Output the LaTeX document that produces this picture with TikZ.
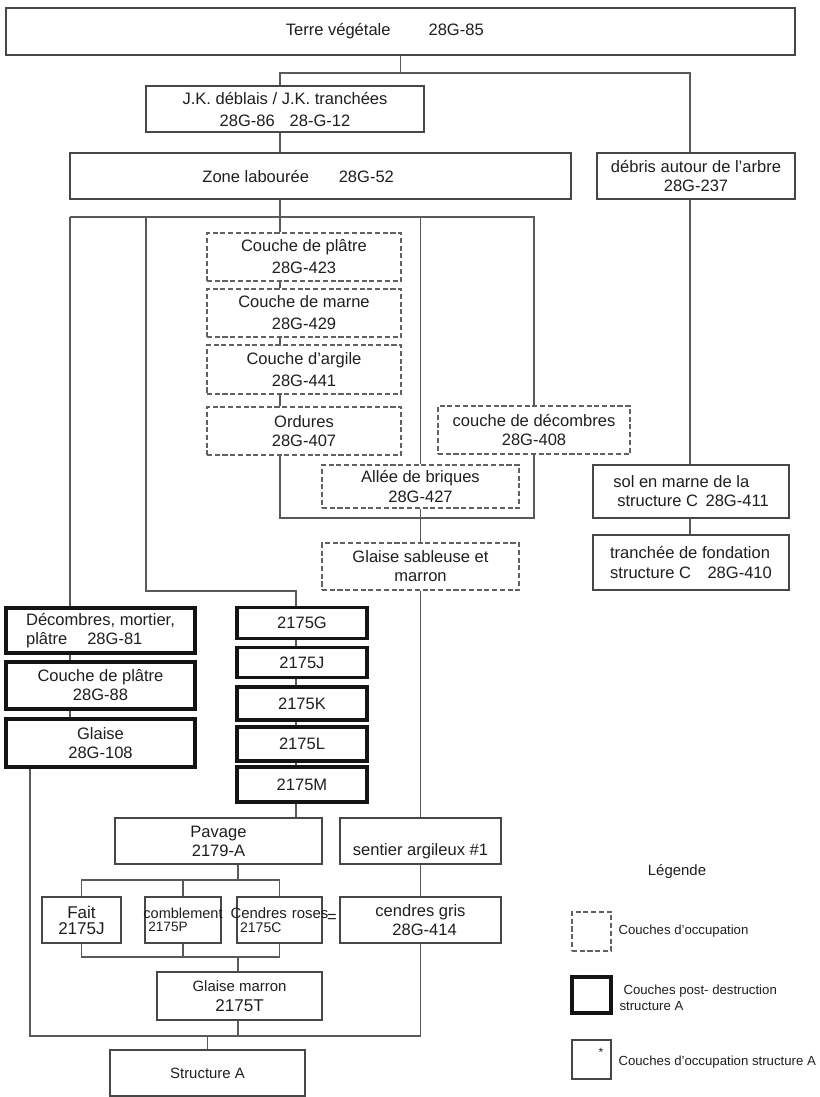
\documentclass[tikz,border=0pt]{standalone}
\usepackage{fontspec}
\setmainfont{Liberation Sans}
\usetikzlibrary{positioning}

\begin{document}
\begin{tikzpicture}[
    x=0.75pt, y=-0.75pt,
    every node/.style={font=\fontsize{12.4}{14.3}\selectfont, text=black!88},
    sz/.style 2 args={minimum width={#1*0.75pt}, minimum height={#2*0.75pt}},
    layer/.style={draw=black!72, line width=0.9pt, inner sep=1pt, align=center},
    occ/.style={layer, draw=black!62, dash pattern=on 3.8pt off 2pt},
    post/.style={layer, draw=black!92, line width=2.4pt},
    wide/.style={font=\fontsize{12.4}{16.5}\selectfont},
    small/.style={font=\fontsize{11.2}{13}\selectfont},
    link/.style={draw=black!65, line width=0.9pt},
    lgdtext/.style={font=\fontsize{9.9}{12}\selectfont, align=left, inner sep=1pt},
  ]
  \fill[white] (0,0) rectangle (819,1097);
  \useasboundingbox (0,0) rectangle (819,1097);

  \node[layer, sz={789}{47}] (terre) at (400.5,31.5) {Terre végétale\hspace*{2.3em}28G-85\hspace*{1.9em}};
  \node[layer, wide, sz={278}{46}] (jk) at (285,109) {J.K. déblais / J.K. tranchées\\28G-86\hspace{0.9em}28-G-12};
  \node[layer, sz={501}{46}] (zone) at (320.5,176) {Zone labourée\hspace*{1.8em}28G-52\hspace*{2.7em}};
  \node[layer, sz={198}{46}] (debris) at (696,176) {débris autour de l'arbre\\28G-237};

  \node[occ, wide, sz={194}{48}] (pl423) at (304,257) {Couche de plâtre\\28G-423};
  \node[occ, wide, sz={194}{48}] (ma429) at (304,313) {Couche de marne\\28G-429};
  \node[occ, wide, sz={194}{49}] (ar441) at (304,369.5) {Couche d'argile\\28G-441};
  \node[occ, sz={194}{48}] (ord407) at (304,431) {Ordures\\28G-407};
  \node[occ, sz={192}{48}] (dec408) at (534,430) {couche de décombres\\28G-408};
  \node[occ, sz={197}{43}] (al427) at (420.5,486.5) {Allée de briques\\28G-427};
  \node[occ, sz={197}{47}] (gsm) at (420.5,566.5) {Glaise sableuse et\\marron};

  \node[layer, align=left, sz={196}{53}] (sol411) at (691,491.5) {sol en marne de la\\\hspace*{3pt}structure C\hspace{0.45em}28G-411};
  \node[layer, align=left, sz={196}{55}] (tr410) at (691,562.5) {tranchée de fondation\\structure C\hspace{1em}28G-410};

  \node[post, align=left, sz={189}{45}] (dmp81) at (100.5,630.5) {Décombres, mortier,\\plâtre\hspace{1.2em}28G-81};
  \node[post, sz={189}{47}] (cp88) at (100.5,685.5) {Couche de plâtre\\28G-88};
  \node[post, sz={189}{48}] (gl108) at (100.5,743) {Glaise\\28G-108};

  \node[post, sz={130}{31}] (nG) at (302,623) {2175G};
  \node[post, sz={130}{30}] (nJ) at (302,662.5) {2175J};
  \node[post, sz={130}{33}] (nK) at (302,703.5) {2175K};
  \node[post, sz={130}{34}] (nL) at (302,744) {2175L};
  \node[post, sz={130}{35}] (nM) at (302,784.5) {2175M};

  \node[layer, sz={207}{46}] (pav) at (218.5,841) {Pavage\\2179-A};
  \node[layer, sz={161}{46}] (sent) at (420.5,841) {\strut\\sentier argileux \#1};

  \node[layer, sz={79}{46}, font=\fontsize{12.8}{12}\selectfont] (fait) at (81.5,920) {Fait\\2175J};
  \node[layer, sz={76}{46}, align=left, text width=52pt, inner xsep=2.25pt,
        font=\fontsize{10.9}{10}\selectfont] (comb) at (183,920)
        {\makebox[\hsize][c]{comblement}\\{\fontsize{10.2}{10}\selectfont 2175P}};
  \node[layer, sz={85}{46}, align=left, text width=59pt, inner xsep=2.25pt,
        font=\fontsize{11.2}{10.5}\selectfont] (cend) at (279.5,920)
        {\makebox[\hsize][c]{Cendres roses}\\{\fontsize{10.5}{10}\selectfont 2175C}};
  \node[inner sep=0pt] (eq) at (332,918) {=};
  \node[layer, sz={161}{46}] (cgris) at (420.5,920) {cendres gris\\\hspace*{0.5em}28G-414};

  \node[layer, sz={165}{48}, font=\fontsize{11.2}{15}\selectfont] (gmar) at (239.5,996) {Glaise marron\\{\fontsize{12.8}{14}\selectfont 2175T}};
  \node[layer, small, sz={195}{46}] (strA) at (207.5,1073) {Structure A};

  \coordinate (t1) at (400,73);
  \coordinate (rc) at (690,73);
  \coordinate (trunk) at (280,217);
  \coordinate (lft) at (70,217);
  \coordinate (c146) at (146,217);
  \coordinate (c296) at (296,591);
  \coordinate (hz) at (420.5,518);
  \coordinate (pm) at (238,880);
  \coordinate (pb) at (238,957);
  \coordinate (lb) at (30,1036);

  \draw[link] (terre.south) -- (terre.south |- t1);
  \draw[link] (jk.north -| trunk) |- (rc) -- (debris.north -| rc);
  \draw[link] (debris.south -| rc) -- (sol411.north -| rc);
  \draw[link] (sol411.south -| rc) -- (tr410.north -| rc);
  \draw[link] (jk.south -| trunk) -- (zone.north -| trunk);
  \draw[link] (zone.south -| trunk) -- (pl423.north -| trunk);
  \draw[link] (lft) -- (dec408.north |- trunk) -- (dec408.north);
  \draw[link] (al427.north |- trunk) -- (al427.north);
  \draw[link] (pl423.south -| trunk) -- (ma429.north -| trunk);
  \draw[link] (ma429.south -| trunk) -- (ar441.north -| trunk);
  \draw[link] (ar441.south -| trunk) -- (ord407.north -| trunk);
  \draw[link] (ord407.south -| trunk) |- (hz) -| (dec408.south);
  \draw[link] (al427.south) -- (gsm.north);
  \draw[link] (gsm.south) -- (sent.north);
  \draw[link] (sent.south) -- (cgris.north);

  \draw[link] (lft) -- (dmp81.north -| lft);
  \draw[link] (dmp81.south -| lft) -- (cp88.north -| lft);
  \draw[link] (cp88.south -| lft) -- (gl108.north -| lft);

  \draw[link] (c146) |- (c296) -- (nG.north -| c296);
  \foreach \a/\b in {G/J,J/K,K/L,L/M}
    \draw[link] (n\a.south -| c296) -- (n\b.north -| c296);
  \draw[link] (nM.south -| c296) -- (pav.north -| c296);

  \draw[link] (pav.south -| pm) -- (pm);
  \draw[link] (fait.north) |- (pm) -| (cend.north);
  \draw[link] (comb.north) -- (comb.north |- pm);
  \draw[link] (fait.south) |- (pb) -| (cend.south);
  \draw[link] (comb.south) -- (comb.south |- pb);
  \draw[link] (pb) -- (gmar.north -| pb);
  \draw[link] (gmar.south -| pb) -- (lb -| pb);
  \draw[link] (gl108.south -| lb) -- (lb) -- (cgris.south |- lb) -- (cgris.south);
  \draw[link] (strA.north |- lb) -- (strA.north);

  \node[small] (lgd) at (677,872) {Légende};
  \node[occ, sz={39}{39}] (lgA) at (591.5,931.5) {};
  \node[post, sz={39}{36}] (lgB) at (591.5,995) {};
  \node[layer, sz={39}{39}] (lgC) at (591.5,1059.5) {};
  \node[inner sep=0pt, font=\fontsize{9}{9}\selectfont] (lgstar) at (601,1052) {*};
  \node[lgdtext, right=4pt of lgA] (lgAt) {Couches d'occupation};
  \node[lgdtext, right=4pt of lgB, yshift=-2pt] (lgBt) {\hspace*{3pt}Couches post- destruction\\structure A};
  \node[lgdtext, right=4pt of lgC, yshift=-2pt] (lgCt) {Couches d'occupation structure A};
\end{tikzpicture}
\end{document}
